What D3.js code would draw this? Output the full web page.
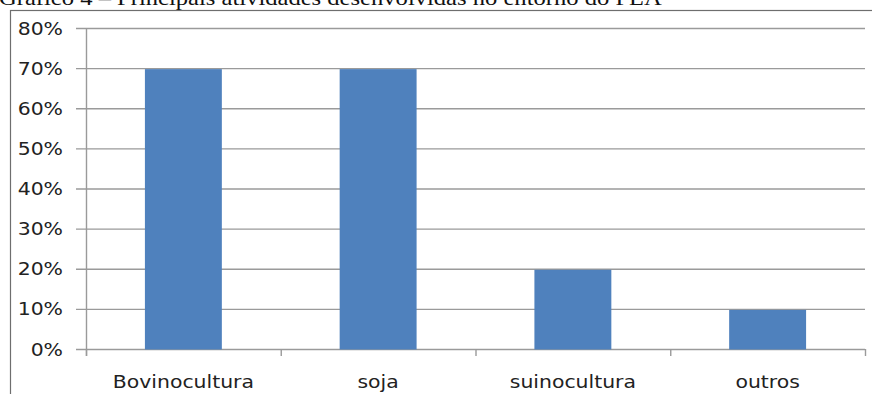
<!DOCTYPE html>
<html>
<head>
<meta charset="utf-8">
<script src="https://cdn.jsdelivr.net/npm/d3@7"></script>
<style>
  html, body { margin: 0; padding: 0; background: #fff; }
  svg { display: block; }
</style>
</head>
<body>
<svg id="chart" width="872" height="394"></svg>
<script>
// Principais atividades desenvolvidas no entorno do PLA
const categories = ["Bovinocultura", "soja", "suinocultura", "outros"];
const values = [70, 70, 20, 10];           // percent
const yTicks = [0, 10, 20, 30, 40, 50, 60, 70, 80];
const title = "Gráfico 4 – Principais atividades desenvolvidas no entorno do PLA";

const svg = d3.select("#chart");
const W = 872, H = 394;
const plot = { left: 86, right: 865, top: 28, bottom: 349 };
const stretch = 1.2;   // horizontal glyph stretch of the labels

// caption, partly cropped at the top edge
svg.append("text")
  .attr("transform", `translate(-1,5) scale(${stretch},1)`)
  .attr("font-family", "'Liberation Serif', 'Times New Roman', serif")
  .attr("font-size", 20.5)
  .attr("fill", "#111")
  .text(title);

// chart frame
svg.append("rect")
  .attr("x", 10.5).attr("y", 10.5)
  .attr("width", W + 20).attr("height", H + 20)
  .attr("fill", "none")
  .attr("stroke", "#6e6e6e")
  .attr("stroke-width", 1.2);

const x = d3.scaleBand()
  .domain(categories)
  .range([plot.left, plot.right])
  .padding(0);

const y = d3.scaleLinear()
  .domain([0, 80])
  .range([plot.bottom, plot.top]);

const gridColor = "#9a9a9a";

// horizontal gridlines
svg.append("g")
  .selectAll("line")
  .data(yTicks)
  .join("line")
  .attr("x1", plot.left - 10)
  .attr("x2", plot.right)
  .attr("y1", d => y(d) + 0.5)
  .attr("y2", d => y(d) + 0.5)
  .attr("stroke", gridColor)
  .attr("stroke-width", 1.4);

// bars
const barW = x.bandwidth() * 0.395;
svg.append("g")
  .selectAll("rect")
  .data(categories)
  .join("rect")
  .attr("x", (d) => x(d) + (x.bandwidth() - barW) / 2)
  .attr("y", (d, i) => y(values[i]) + 1)
  .attr("width", barW)
  .attr("height", (d, i) => y(0) - y(values[i]) - 0.5)
  .attr("fill", "#4f81bd");

// y axis line
svg.append("line")
  .attr("x1", plot.left + 0.5).attr("x2", plot.left + 0.5)
  .attr("y1", plot.top).attr("y2", plot.bottom + 7)
  .attr("stroke", gridColor).attr("stroke-width", 1.4);

// x axis ticks at category boundaries
const boundaries = categories.map(c => x(c)).concat([plot.right]);
svg.append("g")
  .selectAll("line")
  .data(boundaries)
  .join("line")
  .attr("x1", d => d + 0.5).attr("x2", d => d + 0.5)
  .attr("y1", plot.bottom).attr("y2", plot.bottom + 7)
  .attr("stroke", gridColor).attr("stroke-width", 1.4);

const labelFont = "'DejaVu Sans', Verdana, sans-serif";

// y tick labels
svg.append("g")
  .selectAll("text")
  .data(yTicks)
  .join("text")
  .attr("transform", d => `translate(63,${y(d) + 6.5}) scale(${stretch},1)`)
  .attr("text-anchor", "end")
  .attr("font-family", labelFont)
  .attr("font-size", 17)
  .attr("fill", "#222")
  .text(d => d + "%");

// category labels
svg.append("g")
  .selectAll("text")
  .data(categories)
  .join("text")
  .attr("transform", d => `translate(${x(d) + x.bandwidth() / 2},388) scale(${stretch},1)`)
  .attr("text-anchor", "middle")
  .attr("font-family", labelFont)
  .attr("font-size", 17)
  .attr("fill", "#222")
  .text(d => d);
</script>
</body>
</html>
